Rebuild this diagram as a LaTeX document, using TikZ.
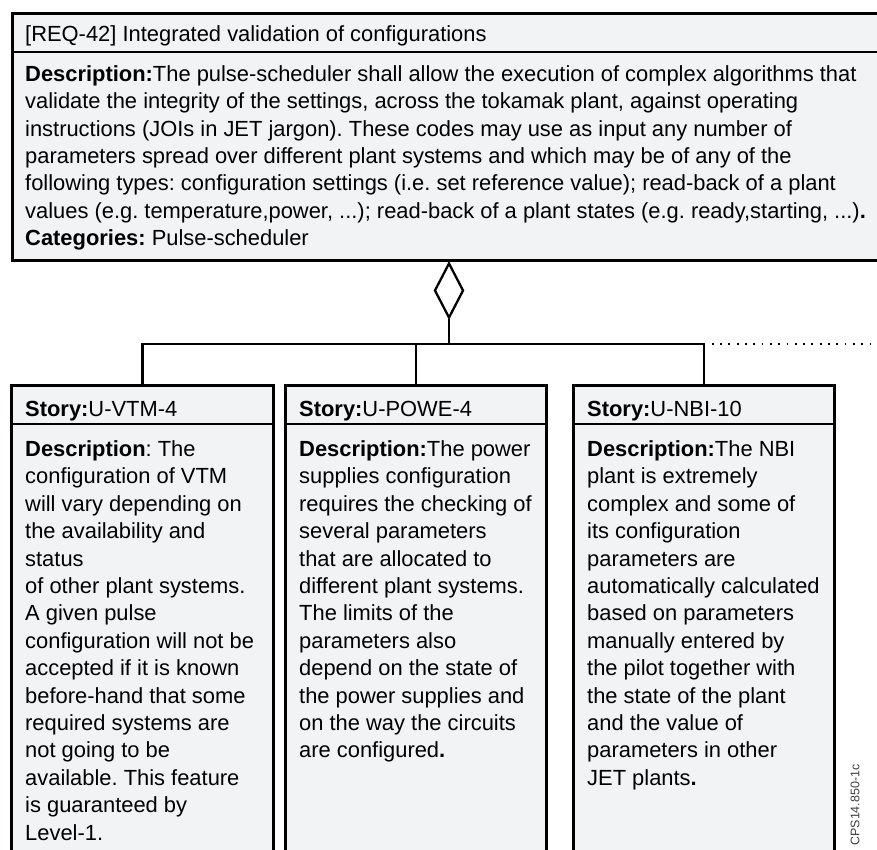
\documentclass[tikz,border=0pt]{standalone}
\usepackage{fontspec}
\setmainfont{Liberation Sans}
\usetikzlibrary{shapes.geometric}
\definecolor{boxfill}{RGB}{242,243,245}
\frenchspacing
\tikzset{
  boxline/.style={draw=black, line width=2.7pt, fill=boxfill},
  sepline/.style={draw=black, line width=2.7pt},
  conn/.style={draw=black, line width=2.3pt},
  dotconn/.style={draw=black, line width=1.8pt, dash pattern=on 1.8pt off 6.5pt},
  bigtxt/.style={font=\fontsize{21.9}{27.3}\selectfont, align=left, inner sep=0pt, anchor=north west},
  storytxt/.style={font=\fontsize{21.9}{27.4}\selectfont, align=left, inner sep=0pt, anchor=north west},
  storybox/.style={boxline, minimum width=262pt, minimum height=600pt, anchor=north west, inner sep=0pt},
  aggr/.style={diamond, draw=black, line width=2.3pt, fill=white, minimum width=29pt, minimum height=55pt, inner sep=0pt},
}
\begin{document}
\begin{tikzpicture}[x=1pt,y=-1pt]
\useasboundingbox (0,0) rectangle (877,849);
\clip (0,0) rectangle (877,849);
% top requirement box
\node[boxline, minimum width=900pt, minimum height=247pt, anchor=north west, inner sep=0pt] (req) at (11,12) {};
\coordinate (reqsepL) at (11,52);
\coordinate (reqsepR) at (911,52);
\draw[sepline] (reqsepL) -- (reqsepR);
\node[bigtxt] (reqtitle) at (25,25.5) {[REQ-42] Integrated validation of configurations};
\node[bigtxt] (reqdesc) at (25,65.5) {\textbf{Description:}The pulse-scheduler shall allow the execution of complex algorithms that\\
validate the integrity of the settings, across the tokamak plant, against operating\\
instructions (JOIs in JET jargon). These codes may use as input any number of\\
parameters spread over different plant systems and which may be of any of the\\
following types: configuration settings (i.e. set reference value); read-back of a plant\\
values (e.g. temperature,power, ...); read-back of a plant states (e.g. ready,starting, ...)\textbf{.}\\
\textbf{Categories:} Pulse-scheduler};
% story boxes
\node[storybox] (s1) at (10,384) {};
\node[storybox, minimum width=261pt] (s2) at (284,384) {};
\node[storybox, minimum width=261pt] (s3) at (572,384) {};
\draw[sepline] (s1.west |- 0,424) -- (s1.east |- 0,424);
\draw[sepline] (s2.west |- 0,424) -- (s2.east |- 0,424);
\draw[sepline] (s3.west |- 0,424) -- (s3.east |- 0,424);
\node[storytxt] (h1) at (25,400.5) {\textbf{Story:}U-VTM-4};
\node[storytxt] (h2) at (299,400.5) {\textbf{Story:}U-POWE-4};
\node[storytxt] (h3) at (587,400.5) {\textbf{Story:}U-NBI-10};
\node[storytxt] (d1) at (25,440.5) {\textbf{Description}: The\\
configuration of VTM\\
will vary depending on\\
the availability and\\
status\\
of other plant systems.\\
A given pulse\\
configuration will not be\\
accepted if it is known\\
before-hand that some\\
required systems are\\
not going to be\\
available. This feature\\
is guaranteed by\\
Level-1.};
\node[storytxt] (d2) at (299,440.5) {\textbf{Description:}The power\\
supplies configuration\\
requires the checking of\\
several parameters\\
that are allocated to\\
different plant systems.\\
The limits of the\\
parameters also\\
depend on the state of\\
the power supplies and\\
on the way the circuits\\
are configured\textbf{.}};
\node[storytxt] (d3) at (587,440.5) {\textbf{Description:}The NBI\\
plant is extremely\\
complex and some of\\
its configuration\\
parameters are\\
automatically calculated\\
based on parameters\\
manually entered by\\
the pilot together with\\
the state of the plant\\
and the value of\\
parameters in other\\
JET plants\textbf{.}};
% aggregation connector
\node[aggr] (agg) at (449,290.5) {};
\coordinate (bus) at (449,344);
\coordinate (dotend) at (880,344);
\draw[conn] (agg.south) -- (bus);
\draw[conn] (s1.north) |- (s3.north |- bus) -- (s3.north);
\draw[conn] (s2.north) -- (s2.north |- bus);
\draw[dotconn] (s3.north |- bus) ++(8,0) -- (dotend);
% figure tag
\node[rotate=90, font=\fontsize{12.5}{14}\selectfont, text=black!75, inner sep=0pt] (tag) at (855,805) {CPS14.850-1c};
\end{tikzpicture}
\end{document}
